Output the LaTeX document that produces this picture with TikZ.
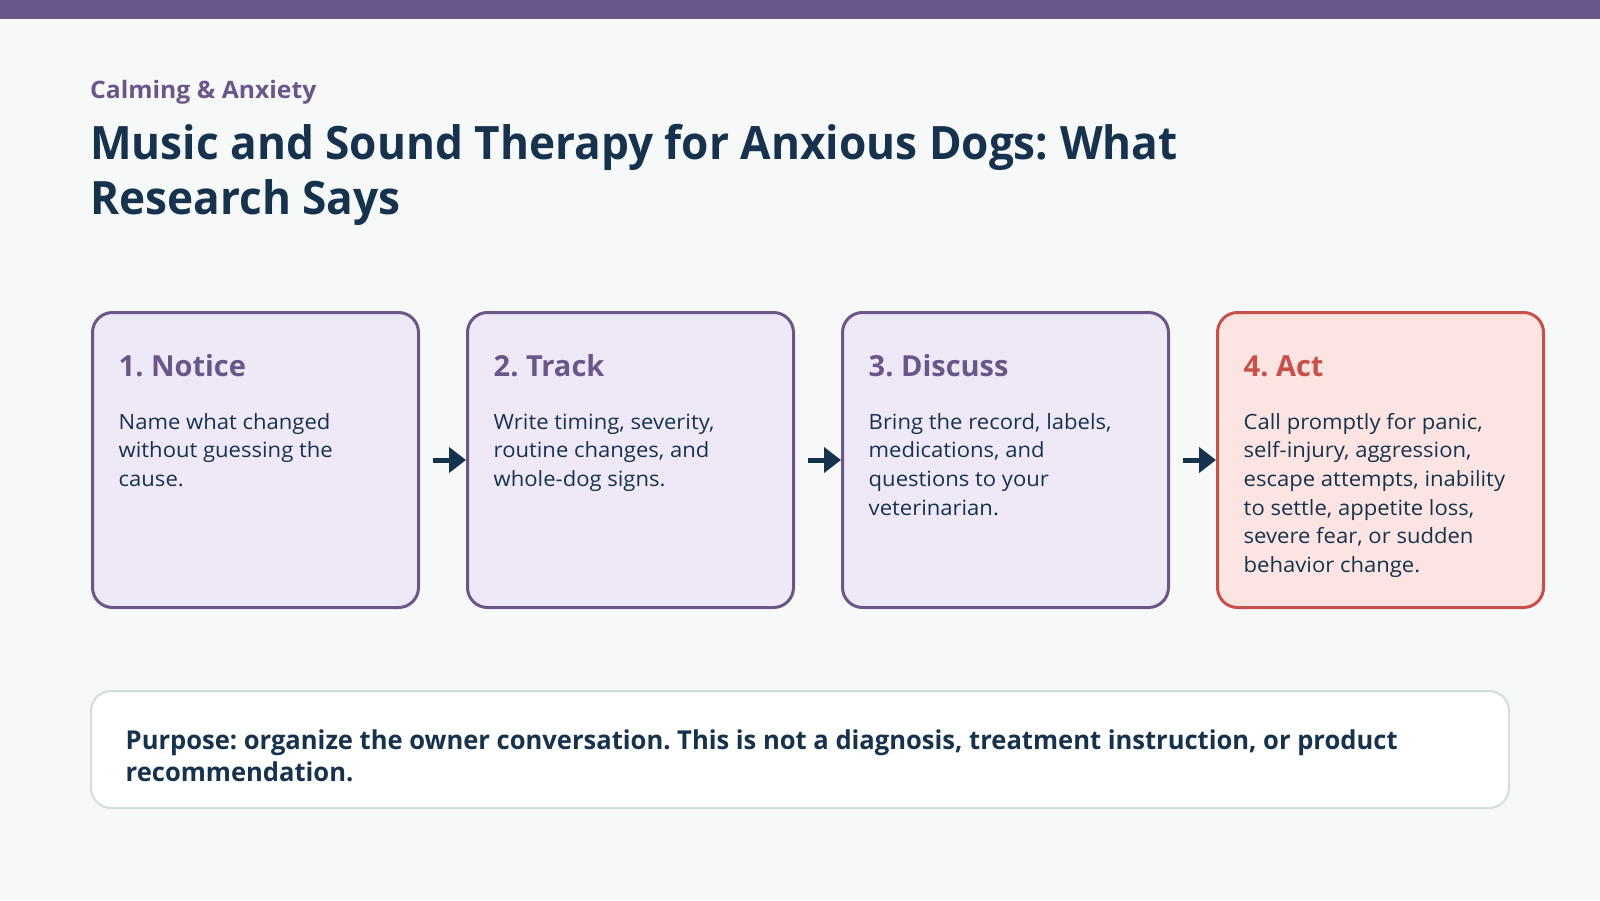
\documentclass[tikz,border=0pt]{standalone}
\usepackage{fontspec}
\setmainfont{Open Sans}
\newfontfamily\titlefont[FakeStretch=0.96]{Open Sans}
\newfontfamily\bodyfont[FakeStretch=1.05]{Open Sans}
\newfontfamily\notefont[FakeStretch=0.983]{Open Sans}
\newfontfamily\kickerfont[FakeStretch=1.03]{Open Sans}
\frenchspacing
\usetikzlibrary{arrows.meta}
\definecolor{bg}{HTML}{F7F9F9}
\definecolor{plum}{HTML}{6A5789}
\definecolor{navy}{HTML}{17324D}
\definecolor{lav}{HTML}{EFE9F7}
\definecolor{redline}{HTML}{C8504A}
\definecolor{redfill}{HTML}{FBE4E1}
\definecolor{greyline}{HTML}{D2DEDC}
\tikzset{
  stepbox/.style={draw=plum, fill=lav, line width=3pt, rounded corners=20pt,
    minimum width=326pt, minimum height=295pt, inner sep=0pt},
  alertbox/.style={stepbox, draw=redline, fill=redfill},
  heading/.style={anchor=base west, inner sep=0pt, text=plum,
    font=\fontsize{29}{35}\selectfont\bfseries},
  body/.style={anchor=base west, inner sep=0pt, text=navy, align=left,
    font=\bodyfont\fontsize{21}{28.7}\selectfont},
  flow/.style={draw=navy, line width=5pt, -{Triangle[length=17pt,width=25pt]}, shorten <=13pt},
}
\begin{document}
\begin{tikzpicture}[x=1pt,y=-1pt]
\useasboundingbox (0,0) rectangle (1600,900);
\fill[bg] (0,0) rectangle (1600,900);
\fill[plum] (0,0) rectangle (1600,19);

\node[anchor=base west, inner sep=0pt, text=plum, font=\kickerfont\fontsize{24}{28}\selectfont\bfseries] (kicker) at (90,98) {Calming \& Anxiety};
% base anchor of a multi-line node is its last line
\node[anchor=base west, inner sep=0pt, text=navy, align=left, font=\titlefont\fontsize{46}{55}\selectfont\bfseries] (title) at (90,214) {Music and Sound Therapy for Anxious Dogs: What\\Research Says};

\node[stepbox] (b1) at (255.5,460) {};
\node[stepbox] (b2) at (630.5,460) {};
\node[stepbox] (b3) at (1005.5,460) {};
\node[alertbox] (b4) at (1380.5,460) {};

\node[heading] (h1) at (118.5,376) {1. Notice};
\node[body] (t1) at (118.5,486.4) {Name what changed\\without guessing the\\cause.};
\node[heading] (h2) at (493.5,376) {2. Track};
\node[body] (t2) at (493.5,486.4) {Write timing, severity,\\routine changes, and\\whole-dog signs.};
\node[heading] (h3) at (868.5,376) {3. Discuss};
\node[body] (t3) at (868.5,515.1) {Bring the record, labels,\\medications, and\\questions to your\\veterinarian.};
\node[heading, text=redline] (h4) at (1243.5,376) {4. Act};
\node[body] (t4) at (1243.5,572.5) {Call promptly for panic,\\self-injury, aggression,\\escape attempts, inability\\to settle, appetite loss,\\severe fear, or sudden\\behavior change.};

\draw[flow] (b1.east) -- (b2.west);
\draw[flow] (b2.east) -- (b3.west);
\draw[flow] (b3.east) -- (b4.west);

\node[draw=greyline, fill=white, line width=2pt, rounded corners=20pt, minimum width=1418pt, minimum height=117pt, inner sep=0pt] (note) at (800,749.5) {};
\node[anchor=base west, inner sep=0pt, text=navy, align=left, font=\notefont\fontsize{26}{32}\selectfont\bfseries] (notetext) at (125.5,781) {Purpose: organize the owner conversation. This is not a diagnosis, treatment instruction, or product\\recommendation.};
\end{tikzpicture}
\end{document}
